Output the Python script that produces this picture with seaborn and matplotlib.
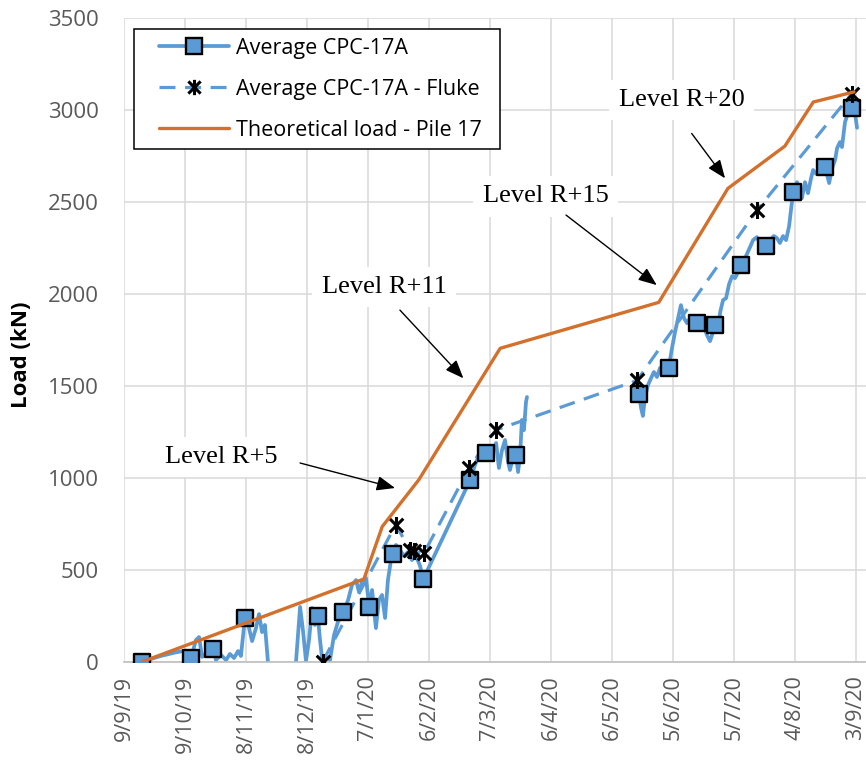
import numpy as np
import pandas as pd
import matplotlib
matplotlib.use("Agg")
import matplotlib.pyplot as plt
from matplotlib.lines import Line2D
from matplotlib.patches import Rectangle
from matplotlib.path import Path
import seaborn as sns

# Day 0 of the monitoring period
START = pd.Timestamp("2019-09-09")

# Axis tick labels (d/m/yy), every 30 days
tick_labels = ["9/9/19", "9/10/19", "8/11/19", "8/12/19", "7/1/20", "6/2/20", "7/3/20",
               "6/4/20", "6/5/20", "5/6/20", "5/7/20", "4/8/20", "3/9/20"]

# Theoretical load, pile 17 (days after START, kN)
theory_day = [9, 118, 127, 145, 185, 263, 297, 325, 339, 359]
theory_load = [0, 450, 735, 990, 1705, 1955, 2575, 2805, 3045, 3100]

# Average CPC-17A, marked readings
avg_day = [9.0, 33.0, 43.9, 59.5, 95.3, 107.9, 120.6, 132.4, 147.2, 170.3, 177.9,
           192.8, 253.3, 267.9, 281.6, 290.8, 303.3, 315.7, 329.2, 344.8, 357.9]
avg_load = [0, 22, 70, 240, 250, 270, 300, 585, 450, 990, 1135,
            1125, 1455, 1600, 1845, 1830, 2160, 2260, 2555, 2690, 3015]

# Average CPC-17A measured with the Fluke meter
fluke_day = [97.7, 133.6, 140.7, 142.6, 147.5, 169.8, 182.8, 252.3, 311.2, 357.9]
fluke_load = [0, 745, 610, 600, 590, 1055, 1260, 1530, 2455, 3090]

# Continuous logger record of Average CPC-17A, in three recording runs
run1_day = [9.0, 17.7, 25.1, 30.0, 33.0, 35.4, 36.9, 38.4, 41.3, 43.9, 45.2, 47.7, 50.2,
            52.1, 54.1, 56.1, 57.5, 59.5, 60.5, 63.0, 64.9, 66.4, 67.9, 69.3, 70.8, 71.8]
run1_load = [0, 30, 50, 60, 22, 118, 134, 26, 53, 70, 9, 36, 9,
             42, 20, 58, 31, 240, 227, 112, 183, 259, 161, 200, -2, -150]

run2_day = [83.1, 84.6, 86.6, 88.0, 89.5, 91.0, 92.5, 93.9, 95.3, 96.4,
            97.4, 98.9, 100.3, 101.3, 103.3, 105.2, 107.9, 110.2, 112.1, 114.1,
            115.6, 117.0, 119.0, 120.6, 122.0, 123.9, 125.4, 126.9, 128.4, 129.8,
            131.3, 132.4, 133.8, 135.7, 137.7, 139.7, 141.6, 143.6, 145.6, 147.2,
            170.3, 172.6, 174.6, 176.6, 177.9, 180.0, 181.5, 183.0, 184.4, 185.9,
            187.4, 188.9, 189.8, 191.3, 192.8, 193.8, 194.8, 195.7, 196.7, 197.7, 198.2]
run2_load = [-56, 0, 298, 172, 4, 118, 292, 200, 250, 118,
             20, -56, -56, 9, 145, 216, 270, 335, 417, 444,
             379, 434, 455, 300, 390, 183, 336, 363, 238, 444,
             553, 585, 635, 608, 575, 597, 553, 575, 521, 450,
             990, 1070, 1124, 1152, 1135, 1173, 1152, 1190, 1054, 1152,
             1206, 1086, 1043, 1108, 1125, 1032, 1124, 1315, 1260, 1413, 1440]

run3_day = [250.3, 251.7, 253.3, 254.3, 255.2, 256.2, 257.7, 259.2, 260.6, 262.1,
            263.6, 265.1, 267.9, 269.5, 271.0, 272.5, 273.9, 275.4, 276.9, 278.4,
            279.8, 281.6, 283.3, 285.2, 286.7, 288.2, 290.8, 292.2, 293.2, 294.6,
            296.1, 297.6, 299.1, 300.5, 302.0, 303.3, 304.4, 305.9, 307.9, 309.4,
            311.3, 312.8, 314.3, 315.7, 317.7, 319.6, 321.1, 322.6, 324.1, 325.6,
            327.1, 328.3, 329.2, 331.0, 332.5, 333.4, 334.9, 336.4, 337.9, 338.9,
            340.5, 341.9, 343.4, 344.8, 346.8, 348.2, 349.7, 350.7, 352.1, 353.1,
            354.6, 356.1, 357.9, 359.0, 360.5]
run3_load = [1467, 1445, 1455, 1380, 1337, 1435, 1505, 1543, 1576, 1549,
             1598, 1571, 1600, 1706, 1793, 1869, 1940, 1869, 1842, 1869,
             1848, 1845, 1804, 1821, 1777, 1744, 1830, 1793, 1902, 1967,
             1978, 2055, 2098, 2087, 2120, 2160, 2141, 2207, 2256, 2294,
             2310, 2272, 2240, 2260, 2294, 2316, 2305, 2278, 2316, 2294,
             2370, 2484, 2555, 2609, 2566, 2522, 2609, 2549, 2631, 2675,
             2653, 2685, 2718, 2690, 2604, 2685, 2729, 2794, 2827, 2800,
             2936, 2985, 3015, 3028, 2905]

# Construction stage call-outs: label, text position, arrow tail, arrow tip (days, kN)
levels = ["Level R+5", "Level R+11", "Level R+15", "Level R+20"]
level_text = [(47.7, 1113), (127.9, 2038), (207.3, 2532), (274.2, 3056)]
level_tail = [(86.6, 1081), (135.7, 1913), (217.4, 2430), (279.2, 2874)]
level_tip = [(133.3, 945), (166.9, 1542), (262.0, 2049), (295.6, 2630)]

BLUE = "#5B9BD5"
ORANGE = "#D2702C"
GREY_TXT = "#595959"

sns.set_theme(style="white")
plt.rcParams["font.family"] = ["Open Sans", "DejaVu Sans"]

fig = plt.figure(figsize=(8.66, 7.67), dpi=100)
ax = fig.add_axes([124 / 866, 105.3 / 767, 742 / 866, 643.3 / 767])

trace = pd.concat([
    pd.DataFrame({"day": run1_day, "load": run1_load, "run": 1}),
    pd.DataFrame({"day": run2_day, "load": run2_load, "run": 2}),
    pd.DataFrame({"day": run3_day, "load": run3_load, "run": 3}),
], ignore_index=True)

sns.lineplot(data=trace, x="day", y="load", units="run", estimator=None,
             color=BLUE, linewidth=2.7, legend=False, ax=ax, zorder=2)
sns.lineplot(x=fluke_day, y=fluke_load, color=BLUE, linewidth=2.3,
             linestyle=(0, (5, 3)), legend=False, ax=ax, zorder=3)
sns.scatterplot(x=avg_day, y=avg_load, marker="s", s=130, color=BLUE,
                edgecolor="black", linewidth=1.7, ax=ax, zorder=4, legend=False)

# Star marker: an X crossed by a vertical bar
star = Path([(0, -1), (0, 1), (-0.8, -0.8), (0.8, 0.8), (-0.8, 0.8), (0.8, -0.8)],
            [Path.MOVETO, Path.LINETO, Path.MOVETO, Path.LINETO, Path.MOVETO, Path.LINETO])
sns.scatterplot(x=fluke_day, y=fluke_load, marker=star, s=150, color="black",
                edgecolor="black", linewidth=2.2, ax=ax, zorder=5, legend=False)

sns.lineplot(x=theory_day, y=theory_load, color=ORANGE, linewidth=2.4,
             legend=False, ax=ax, zorder=6)

# Axes, ticks and grid
tick_pos = [(pd.to_datetime(t, format="%d/%m/%y") - START).days for t in tick_labels]
ax.set_xlim(0, 742 / (61 / 30))
ax.set_ylim(0, 3500)
ax.set_xticks(tick_pos)
ax.set_xticklabels(tick_labels)
ax.set_yticks(np.arange(0, 3501, 500))
ax.set_xlabel("")
ax.set_ylabel("")
ax.grid(True, color="#D9D9D9", linewidth=1.1)
ax.set_axisbelow(True)
for side in ["top", "right", "left"]:
    ax.spines[side].set_visible(False)
ax.spines["bottom"].set_color("#BFBFBF")
ax.spines["bottom"].set_linewidth(1.2)
ax.tick_params(axis="x", length=0, pad=10, labelsize=15.5, labelcolor=GREY_TXT, labelrotation=90)
ax.tick_params(axis="y", length=0, pad=18, labelsize=16, labelcolor=GREY_TXT)

fig.text(22 / 866, 1 - 355 / 767, "Load (kN)", rotation=90, ha="center", va="center",
         fontsize=16, fontweight="bold", color="black")

# Stage call-outs with arrows
for lab, tpos, tail, tip in zip(levels, level_text, level_tail, level_tip):
    ax.text(tpos[0], tpos[1], lab, family=["Liberation Serif"], fontsize=19,
            ha="center", va="center", color="black", zorder=1.5,
            bbox=dict(boxstyle="square,pad=0.35", fc="white", ec="none"))
    ax.annotate("", xy=tip, xytext=tail, zorder=7,
                arrowprops=dict(arrowstyle="-|>,head_length=0.7,head_width=0.28",
                                color="black", lw=1.0, mutation_scale=16,
                                shrinkA=0, shrinkB=0))

# Legend: framed box drawn separately so its padding can be set on each side
legend_box = Rectangle((134 / 866, 1 - 149 / 767), 366 / 866, 120 / 767,
                       transform=fig.transFigure, facecolor="white", edgecolor="black",
                       linewidth=1.1, zorder=9, clip_on=False)
ax.add_artist(legend_box)

handles = [
    Line2D([], [], color=BLUE, linewidth=2.7, marker="s", markersize=11,
           markerfacecolor=BLUE, markeredgecolor="black", markeredgewidth=1.7),
    Line2D([], [], color=BLUE, linewidth=2.3, linestyle=(0, (5, 3)), marker=star,
           markersize=11, markerfacecolor="black", markeredgecolor="black",
           markeredgewidth=2.2),
    Line2D([], [], color=ORANGE, linewidth=2.4),
]
labels = ["Average CPC-17A", "Average CPC-17A - Fluke", "Theoretical load - Pile 17"]
leg = ax.legend(handles=handles, labels=labels, loc="upper left",
                bbox_to_anchor=(159 / 866, 1 - 38 / 767), bbox_transform=fig.transFigure,
                borderaxespad=0, borderpad=0, frameon=False, fontsize=15.5,
                handlelength=3.25, handletextpad=0.33, labelspacing=0.92)
leg.set_zorder(10)
for t in leg.get_texts():
    t.set_color("black")

fig.savefig("out.png", dpi=100)
